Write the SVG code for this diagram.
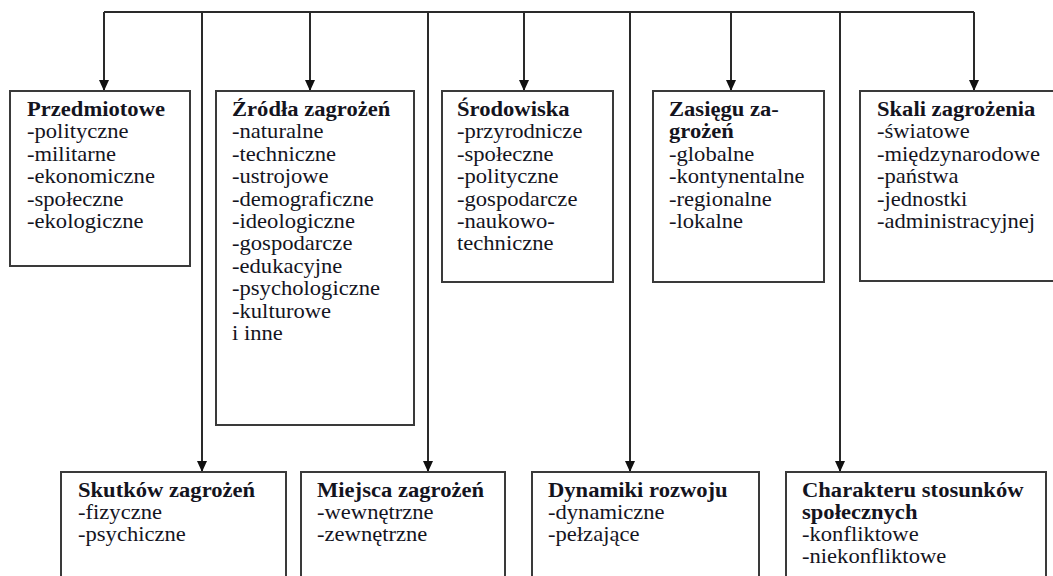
<svg xmlns="http://www.w3.org/2000/svg" width="1053" height="576" viewBox="0 0 1053 576">
  <defs>
    <!-- arrowhead drawn along +x so orient="auto" points it down the line -->
    <marker id="arrow" viewBox="0 0 11 10" refX="11" refY="5" markerWidth="11" markerHeight="10" markerUnits="userSpaceOnUse" orient="auto">
      <path d="M0,0 L11,5 L0,10 Z" fill="#111"/>
    </marker>
    <style>
      .box { fill: #fff; stroke: #3a3a3a; stroke-width: 2; }
      .wire { fill: none; stroke: #2a2a2a; stroke-width: 2; }
      .lbl { font-family: "Liberation Serif", "Times New Roman", serif; font-size: 20px; fill: #14141e; }
      .ttl { font-weight: bold; }
    </style>
  </defs>
  <rect width="1053" height="576" fill="#fff"/>

  <!-- connectors -->
  <g id="connectors">
    <path class="wire" d="M104,12 H974"/>
    <path class="wire" d="M104,12 V91" marker-end="url(#arrow)"/>
    <path class="wire" d="M310,12 V91" marker-end="url(#arrow)"/>
    <path class="wire" d="M524,12 V91" marker-end="url(#arrow)"/>
    <path class="wire" d="M731,12 V91" marker-end="url(#arrow)"/>
    <path class="wire" d="M974,12 V91" marker-end="url(#arrow)"/>
    <path class="wire" d="M202,12 V472" marker-end="url(#arrow)"/>
    <path class="wire" d="M428,12 V472" marker-end="url(#arrow)"/>
    <path class="wire" d="M630,12 V472" marker-end="url(#arrow)"/>
    <path class="wire" d="M840,12 V472" marker-end="url(#arrow)"/>
  </g>

  <!-- top row -->
  <g id="przedmiotowe">
    <rect class="box" x="10" y="91" width="180" height="175"/>
    <text class="lbl" transform="translate(27 116) scale(1.13 1)">
      <tspan class="ttl" x="0" y="0">Przedmiotowe</tspan>
      <tspan x="0" dy="22.4">-polityczne</tspan>
      <tspan x="0" dy="22.4">-militarne</tspan>
      <tspan x="0" dy="22.4">-ekonomiczne</tspan>
      <tspan x="0" dy="22.4">-społeczne</tspan>
      <tspan x="0" dy="22.4">-ekologiczne</tspan>
    </text>
  </g>

  <g id="zrodla">
    <rect class="box" x="216" y="91" width="198" height="334"/>
    <text class="lbl" transform="translate(232 116) scale(1.13 1)">
      <tspan class="ttl" x="0" y="0">Źródła zagrożeń</tspan>
      <tspan x="0" dy="22.4">-naturalne</tspan>
      <tspan x="0" dy="22.4">-techniczne</tspan>
      <tspan x="0" dy="22.4">-ustrojowe</tspan>
      <tspan x="0" dy="22.4">-demograficzne</tspan>
      <tspan x="0" dy="22.4">-ideologiczne</tspan>
      <tspan x="0" dy="22.4">-gospodarcze</tspan>
      <tspan x="0" dy="22.4">-edukacyjne</tspan>
      <tspan x="0" dy="22.4">-psychologiczne</tspan>
      <tspan x="0" dy="22.4">-kulturowe</tspan>
      <tspan x="0" dy="22.4">i inne</tspan>
    </text>
  </g>

  <g id="srodowiska">
    <rect class="box" x="442" y="91" width="171" height="191"/>
    <text class="lbl" transform="translate(457 116) scale(1.13 1)">
      <tspan class="ttl" x="0" y="0">Środowiska</tspan>
      <tspan x="0" dy="22.4">-przyrodnicze</tspan>
      <tspan x="0" dy="22.4">-społeczne</tspan>
      <tspan x="0" dy="22.4">-polityczne</tspan>
      <tspan x="0" dy="22.4">-gospodarcze</tspan>
      <tspan x="0" dy="22.4">-naukowo-</tspan>
      <tspan x="0" dy="22.4">techniczne</tspan>
    </text>
  </g>

  <g id="zasiegu">
    <rect class="box" x="653" y="91" width="171" height="191"/>
    <text class="lbl" transform="translate(669 116) scale(1.13 1)">
      <tspan class="ttl" x="0" y="0">Zasięgu za-</tspan>
      <tspan class="ttl" x="0" dy="22.4">grożeń</tspan>
      <tspan x="0" dy="22.4">-globalne</tspan>
      <tspan x="0" dy="22.4">-kontynentalne</tspan>
      <tspan x="0" dy="22.4">-regionalne</tspan>
      <tspan x="0" dy="22.4">-lokalne</tspan>
    </text>
  </g>

  <g id="skali">
    <rect class="box" x="860" y="91" width="200" height="190"/>
    <text class="lbl" transform="translate(877 116) scale(1.13 1)">
      <tspan class="ttl" x="0" y="0">Skali zagrożenia</tspan>
      <tspan x="0" dy="22.4">-światowe</tspan>
      <tspan x="0" dy="22.4">-międzynarodowe</tspan>
      <tspan x="0" dy="22.4">-państwa</tspan>
      <tspan x="0" dy="22.4">-jednostki</tspan>
      <tspan x="0" dy="22.4">-administracyjnej</tspan>
    </text>
  </g>

  <!-- bottom row -->
  <g id="skutkow">
    <rect class="box" x="61" y="472" width="225" height="130"/>
    <text class="lbl" transform="translate(78 497) scale(1.13 1)">
      <tspan class="ttl" x="0" y="0">Skutków zagrożeń</tspan>
      <tspan x="0" dy="22">-fizyczne</tspan>
      <tspan x="0" dy="22">-psychiczne</tspan>
    </text>
  </g>

  <g id="miejsca">
    <rect class="box" x="301" y="472" width="204" height="130"/>
    <text class="lbl" transform="translate(317 497) scale(1.13 1)">
      <tspan class="ttl" x="0" y="0">Miejsca zagrożeń</tspan>
      <tspan x="0" dy="22">-wewnętrzne</tspan>
      <tspan x="0" dy="22">-zewnętrzne</tspan>
    </text>
  </g>

  <g id="dynamiki">
    <rect class="box" x="532" y="472" width="227" height="130"/>
    <text class="lbl" transform="translate(548 497) scale(1.13 1)">
      <tspan class="ttl" x="0" y="0">Dynamiki rozwoju</tspan>
      <tspan x="0" dy="22">-dynamiczne</tspan>
      <tspan x="0" dy="22">-pełzające</tspan>
    </text>
  </g>

  <g id="charakteru">
    <rect class="box" x="786" y="472" width="260" height="130"/>
    <text class="lbl" transform="translate(802 497) scale(1.13 1)">
      <tspan class="ttl" x="0" y="0">Charakteru stosunków</tspan>
      <tspan class="ttl" x="0" dy="22">społecznych</tspan>
      <tspan x="0" dy="22">-konfliktowe</tspan>
      <tspan x="0" dy="22">-niekonfliktowe</tspan>
    </text>
  </g>
</svg>
